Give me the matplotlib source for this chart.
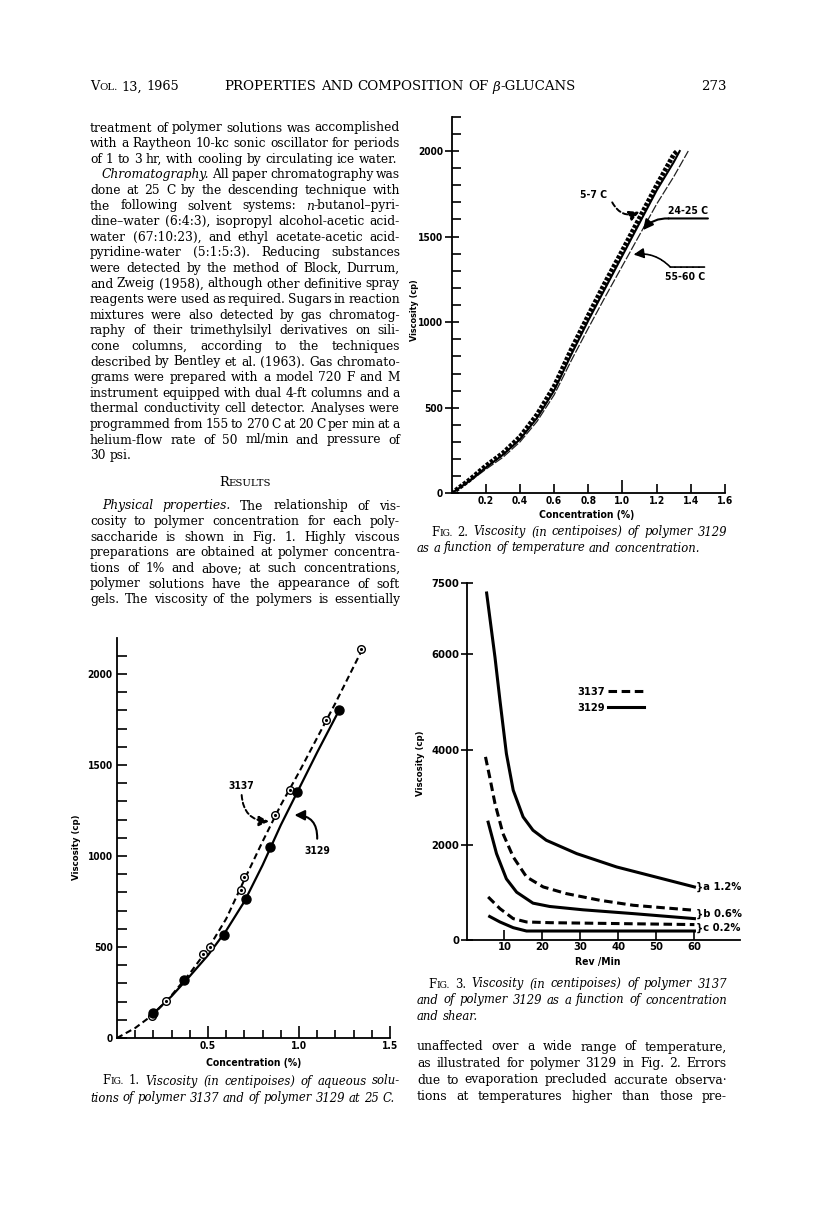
import re
import numpy as np
import matplotlib
matplotlib.use('Agg')
import matplotlib.pyplot as plt
from matplotlib.ticker import FixedLocator
from matplotlib.transforms import IdentityTransform

# ---------------- Fig. 1 : viscosity vs concentration, 25 C
conc_3137 = [0.19, 0.27, 0.47, 0.51, 0.68, 0.70, 0.87, 0.95, 1.15, 1.34]
visc_3137 = [120, 205, 460, 500, 815, 885, 1225, 1360, 1745, 2135]
conc_3129 = [0.20, 0.37, 0.59, 0.71, 0.84, 0.99, 1.22]
visc_3129 = [140, 320, 565, 765, 1050, 1350, 1800]
# hand drawn curves through the points
curve_x_3137 = [0, 0.1, 0.2, 0.3, 0.4, 0.5, 0.6, 0.7, 0.8, 0.9, 1.0, 1.1, 1.2, 1.34]
curve_y_3137 = [0, 55, 130, 235, 355, 490, 655, 870, 1080, 1280, 1460, 1650, 1840, 2120]
curve_x_3129 = [0.19, 0.3, 0.4, 0.5, 0.6, 0.7, 0.8, 0.9, 1.0, 1.1, 1.22]
curve_y_3129 = [125, 230, 340, 455, 590, 750, 950, 1170, 1370, 1570, 1800]

# ---------------- Fig. 2 : polymer 3129 at three temperatures
conc_5_7 = [0, 0.1, 0.2, 0.3, 0.4, 0.5, 0.6, 0.7, 0.8, 0.9, 1.0, 1.1, 1.2, 1.3, 1.32]
visc_5_7 = [0, 75, 160, 235, 330, 460, 625, 840, 1040, 1235, 1420, 1610, 1800, 1980, 2000]
conc_24_25 = [0, 0.1, 0.2, 0.3, 0.4, 0.5, 0.6, 0.7, 0.8, 0.9, 1.0, 1.1, 1.2, 1.3, 1.335]
visc_24_25 = [0, 70, 150, 225, 315, 440, 600, 810, 1010, 1200, 1390, 1580, 1770, 1935, 2000]
conc_55_60 = [0, 0.1, 0.2, 0.3, 0.4, 0.5, 0.6, 0.7, 0.8, 0.9, 1.0, 1.1, 1.2, 1.3, 1.385]
visc_55_60 = [0, 65, 140, 210, 300, 420, 575, 775, 965, 1150, 1330, 1510, 1690, 1850, 2000]

# ---------------- Fig. 3 : viscosity vs shear (rev/min)
rev_a_3129 = [5.3, 7.5, 8.8, 10.5, 12.3, 14.9, 17.5, 21, 29, 39.5, 60]
visc_a_3129 = [7290, 5940, 5040, 3920, 3150, 2590, 2310, 2100, 1820, 1540, 1120]
rev_b_3137 = [5, 6.1, 7.5, 9.6, 12.3, 15.8, 20.2, 26.3, 35.1, 43.9, 60]
visc_b_3137 = [3850, 3430, 2870, 2240, 1750, 1330, 1120, 980, 840, 735, 630]
rev_b_3129 = [5.7, 7.9, 10.5, 13.2, 17.5, 21.9, 30.7, 43.9, 60]
visc_b_3129 = [2480, 1820, 1290, 1010, 780, 710, 640, 560, 455]
rev_c_3137 = [5.7, 8.8, 12.3, 15.8, 21.9, 60]
visc_c_3137 = [910, 665, 455, 385, 370, 330]
rev_c_3129 = [6.1, 8.8, 12.3, 15.8, 21.9, 60]
visc_c_3129 = [500, 385, 265, 195, 195, 195]
conc_labels = ['}a 1.2%', '}b 0.6%', '}c 0.2%']
conc_label_y = [1118, 560, 262]

W, H = 816, 1224
plt.rcParams['font.family'] = ['DejaVu Sans']
plt.rcParams['font.weight'] = 'bold'
plt.rcParams['font.stretch'] = 'condensed'
plt.rcParams['axes.labelweight'] = 'bold'
plt.rcParams['axes.linewidth'] = 1.3

fig = plt.figure(figsize=(W / 100, H / 100), dpi=100)
fig.patch.set_facecolor('white')
rend = fig.canvas.get_renderer()
SERIF = 'DejaVu Serif'
PX = IdentityTransform()
BODY = 8.8
CAP = 8.4


def px_axes(left, top, right, bottom):
    ax = fig.add_axes([left / W, 1 - bottom / H, (right - left) / W, (bottom - top) / H])
    ax.spines['top'].set_visible(False)
    ax.spines['right'].set_visible(False)
    ax.patch.set_alpha(0)
    ax.tick_params(labelsize=7.3, width=1.2, colors='k')
    return ax


def put_text(line, x0, x1, yc, align='justify', size=BODY, italic=False):
    ital, sc = italic, False
    words = []
    for w in line.split(' '):
        segs = []
        for part in re.split(r'([_^])', w):
            if part == '_':
                ital = not ital
            elif part == '^':
                sc = not sc
            elif part:
                segs.append(fig.text(0, H - yc - 3.5, part.upper() if sc else part,
                                     transform=PX, family=SERIF, weight='normal',
                                     stretch='normal', style='italic' if ital else 'normal',
                                     fontsize=size * 0.78 if sc else size, va='baseline'))
        words.append(segs)
    wid = [[t.get_window_extent(rend).width for t in segs] for segs in words]
    totals = [sum(w) for w in wid]
    space = size * 1.389 * 0.32
    natural = sum(totals) + space * (len(words) - 1)
    if align == 'justify' and len(words) > 1:
        gap = (x1 - x0 - sum(totals)) / (len(words) - 1)
        x = x0
    else:
        gap = space
        x = {'left': x0, 'center': (x0 + x1 - natural) / 2, 'right': x1 - natural}[align]
    for segs, ws in zip(words, wid):
        for t, w in zip(segs, ws):
            t.set_x(x)
            x += w
        x += gap


# ---------------- running head
put_text('V^OL.^ 13, 1965', 90, 400, 87, align='left', size=9.3)
put_text('PROPERTIES AND COMPOSITION OF _β_-GLUCANS', 218, 582, 87, align='center', size=9.6)
put_text('273', 417, 727, 87, align='right', size=9.6)

# ---------------- left column text
left_par1 = [
    'treatment of polymer solutions was accomplished',
    'with a Raytheon 10-kc sonic oscillator for periods',
    'of 1 to 3 hr, with cooling by circulating ice water.',
    '_Chromatography._ All paper chromatography was',
    'done at 25 C by the descending technique with',
    'the following solvent systems: _n_-butanol–pyri-',
    'dine–water (6:4:3), isopropyl alcohol-acetic acid-',
    'water (67:10:23), and ethyl acetate-acetic acid-',
    'pyridine-water (5:1:5:3). Reducing substances',
    'were detected by the method of Block, Durrum,',
    'and Zweig (1958), although other definitive spray',
    'reagents were used as required. Sugars in reaction',
    'mixtures were also detected by gas chromatog-',
    'raphy of their trimethylsilyl derivatives on sili-',
    'cone columns, according to the techniques',
    'described by Bentley et al. (1963). Gas chromato-',
    'grams were prepared with a model 720 F and M',
    'instrument equipped with dual 4-ft columns and a',
    'thermal conductivity cell detector. Analyses were',
    'programmed from 155 to 270 C at 20 C per min at a',
    'helium-flow rate of 50 ml/min and pressure of',
    '30 psi.',
]
left_par2 = [
    '_Physical properties._ The relationship of vis-',
    'cosity to polymer concentration for each poly-',
    'saccharide is shown in Fig. 1. Highly viscous',
    'preparations are obtained at polymer concentra-',
    'tions of 1% and above; at such concentrations,',
    'polymer solutions have the appearance of soft',
    'gels. The viscosity of the polymers is essentially',
]
lead = 15.6
for i, ln in enumerate(left_par1):
    indent = 12 if i == 3 else 0
    put_text(ln, 90 + indent, 400, 128 + i * lead,
             align='left' if i in (2, 21) else 'justify')
put_text('R^ESULTS^', 90, 400, 483, align='center', size=9.4)
for i, ln in enumerate(left_par2):
    put_text(ln, 90 + (12 if i == 0 else 0), 400, 506 + i * lead)

right_par = [
    'unaffected over a wide range of temperature,',
    'as illustrated for polymer 3129 in Fig. 2. Errors',
    'due to evaporation precluded accurate observa·',
    'tions at temperatures higher than those pre-',
]
for i, ln in enumerate(right_par):
    put_text(ln, 417, 727, 1047 + i * 16.5)

# captions
put_text('_F^IG.^ 1._ Viscosity (in centipoises) of aqueous solu-', 102, 400, 1081, size=CAP, italic=True)
put_text('tions of polymer 3137 and of polymer 3129 at 25 C.', 90, 400, 1098, align='left', size=CAP, italic=True)
put_text('_F^IG.^ 2._ Viscosity (in centipoises) of polymer 3129', 431, 727, 532, size=CAP, italic=True)
put_text('as a function of temperature and concentration.', 417, 727, 548, align='left', size=CAP, italic=True)
put_text('_F^IG.^ 3._ Viscosity (in centipoises) of polymer 3137', 428, 727, 984, size=CAP, italic=True)
put_text('and of polymer 3129 as a function of concentration', 417, 727, 1000, size=CAP, italic=True)
put_text('and shear.', 417, 727, 1016, align='left', size=CAP, italic=True)

# ---------------- Fig. 1
ax1 = px_axes(117, 637.6, 390, 1038)
ax1.set_xlim(0, 1.5)
ax1.set_ylim(0, 2200)
ax1.plot(curve_x_3137, curve_y_3137, color='k', lw=1.5, dashes=(3, 1.8))
ax1.plot(curve_x_3129, curve_y_3129, color='k', lw=1.6)
ax1.plot(conc_3137, visc_3137, 'o', ms=5.5, mfc='white', mec='k', mew=1.0, clip_on=False)
ax1.plot(conc_3137, visc_3137, '.', ms=2.5, color='k', clip_on=False)
ax1.plot(conc_3129, visc_3129, 'o', ms=6.5, color='k', clip_on=False)
ax1.xaxis.set_major_locator(FixedLocator([0.5, 1.0, 1.5]))
ax1.xaxis.set_minor_locator(FixedLocator(np.arange(1, 15) / 10))
ax1.yaxis.set_major_locator(FixedLocator([0, 500, 1000, 1500, 2000]))
ax1.yaxis.set_minor_locator(FixedLocator(np.arange(100, 2200, 100)))
ax1.set_xticklabels(['0.5', '1.0', '1.5'])
ax1.tick_params(axis='x', which='major', direction='in', length=8.5, pad=2)
ax1.tick_params(axis='x', which='minor', direction='in', length=5.5, width=1.2)
ax1.tick_params(axis='y', which='both', direction='in', length=7, width=1.2, pad=3)
ax1.set_xlabel('Concentration (%)', fontsize=7.5)
ax1.set_ylabel('Viscosity (cp)', fontsize=6.8)
ax1.xaxis.set_label_coords(0.5, -0.05)
ax1.yaxis.set_label_coords(-0.132, 0.477)
ax1.text(0.685, 1385, '3137', ha='center', va='center', fontsize=7.5)
ax1.annotate('', xy=(0.835, 1190), xytext=(0.685, 1335),
             arrowprops=dict(arrowstyle='-|>,head_length=0.5,head_width=0.25', color='k',
                             lw=1.4, linestyle=(0, (2.5, 1.5)), shrinkA=0, shrinkB=0,
                             connectionstyle='arc3,rad=0.45', mutation_scale=12))
ax1.text(1.1, 1030, '3129', ha='center', va='center', fontsize=7.5)
ax1.annotate('', xy=(0.975, 1225), xytext=(1.1, 1095),
             arrowprops=dict(arrowstyle='-|>,head_length=0.5,head_width=0.25', color='k',
                             lw=1.5, shrinkA=0, shrinkB=0,
                             connectionstyle='arc3,rad=0.5', mutation_scale=12))

# ---------------- Fig. 2
ax2 = px_axes(451.6, 116.8, 725, 493.3)
ax2.set_xlim(0, 1.6)
ax2.set_ylim(0, 2200)
ax2.plot(conc_55_60, visc_55_60, color='#222222', lw=0.9, dashes=(7, 1.5))
ax2.plot(conc_24_25, visc_24_25, color='k', lw=1.5)
ax2.plot(conc_5_7, visc_5_7, color='k', lw=3.4, dashes=(0.7, 0.35))
ax2.xaxis.set_major_locator(FixedLocator([0.2, 0.4, 0.6, 0.8, 1.0, 1.2, 1.4, 1.6]))
ax2.set_xticklabels(['0.2', '0.4', '0.6', '0.8', '1.0', '1.2', '1.4', '1.6'])
ax2.yaxis.set_major_locator(FixedLocator([0, 500, 1000, 1500, 2000]))
ax2.yaxis.set_minor_locator(FixedLocator(np.arange(100, 2300, 100)))
ax2.tick_params(axis='x', direction='in', length=6.5, pad=2)
ax2.tick_params(axis='y', which='major', direction='inout', length=10, pad=1)
ax2.tick_params(axis='y', which='minor', direction='in', length=6.5, width=1.2)
ax2.xaxis.get_major_ticks()[4].tick1line.set_markersize(9.5)
ax2.set_xlabel('Concentration (%)', fontsize=7.5)
ax2.set_ylabel('Viscosity (cp)', fontsize=6.5)
ax2.xaxis.set_label_coords(0.494, -0.045)
ax2.yaxis.set_label_coords(-0.118, 0.487)
ax2.text(0.83, 1745, '5-7 C', ha='center', va='center', fontsize=7.5)
ax2.annotate('', xy=(1.10, 1645), xytext=(0.94, 1700),
             arrowprops=dict(arrowstyle='-|>,head_length=0.5,head_width=0.25', color='k',
                             lw=1.4, linestyle=(0, (2.5, 1.5)), shrinkA=0, shrinkB=0,
                             connectionstyle='arc3,rad=0.45', mutation_scale=12))
ax2.text(1.385, 1650, '24-25 C', ha='center', va='center', fontsize=7.5)
ax2.annotate('', xy=(1.27, 1606), xytext=(1.5, 1606),
             arrowprops=dict(arrowstyle='-', color='k', lw=1.5, shrinkA=0, shrinkB=0))
ax2.annotate('', xy=(1.12, 1538), xytext=(1.27, 1606),
             arrowprops=dict(arrowstyle='-|>,head_length=0.5,head_width=0.25', color='k',
                             lw=1.5, shrinkA=0, shrinkB=0,
                             connectionstyle='arc3,rad=0.25', mutation_scale=12))
ax2.text(1.365, 1262, '55-60 C', ha='center', va='center', fontsize=7.5)
ax2.annotate('', xy=(1.28, 1322), xytext=(1.48, 1322),
             arrowprops=dict(arrowstyle='-', color='k', lw=1.2, linestyle=(0, (3, 0.6)),
                             shrinkA=0, shrinkB=0))
ax2.annotate('', xy=(1.065, 1395), xytext=(1.28, 1322),
             arrowprops=dict(arrowstyle='-|>,head_length=0.5,head_width=0.25', color='k',
                             lw=1.2, linestyle=(0, (3, 0.6)), shrinkA=0, shrinkB=0,
                             connectionstyle='arc3,rad=0.25', mutation_scale=12))

# ---------------- Fig. 3
ax3 = px_axes(466.5, 583, 740, 940.3)
ax3.set_xlim(0, 72)
ax3.set_ylim(0, 7500)
dash3 = (2.8, 1.5)
l_solid, = ax3.plot(rev_a_3129, visc_a_3129, color='k', lw=2.2)
l_dash, = ax3.plot(rev_b_3137, visc_b_3137, color='k', lw=2.2, dashes=dash3)
ax3.plot(rev_b_3129, visc_b_3129, color='k', lw=2.2)
ax3.plot(rev_c_3137, visc_c_3137, color='k', lw=2.2, dashes=dash3)
ax3.plot(rev_c_3129, visc_c_3129, color='k', lw=2.2)
ax3.xaxis.set_major_locator(FixedLocator([10, 20, 30, 40, 50, 60]))
ax3.yaxis.set_major_locator(FixedLocator([0, 2000, 4000, 6000, 7500]))
ax3.tick_params(axis='x', direction='in', length=7, pad=1.5, labelsize=8)
ax3.tick_params(axis='y', direction='inout', length=8, pad=1, labelsize=8)
ax3.set_xlabel('Rev /Min', fontsize=7.5)
ax3.set_ylabel('Viscosity (cp)', fontsize=6.8)
ax3.xaxis.set_label_coords(0.48, -0.047)
ax3.yaxis.set_label_coords(-0.152, 0.496)
for lab, yv in zip(conc_labels, conc_label_y):
    ax3.text(60.3, yv, lab, ha='left', va='center', fontsize=8, clip_on=False)
ax3.legend([l_dash, l_solid], ['3137', '3129'], loc='upper left',
           bbox_to_anchor=(0.405, 0.71), frameon=False, markerfirst=False,
           handlelength=3.3, handletextpad=0.25, labelspacing=0.55,
           borderpad=0, borderaxespad=0, fontsize=8)

fig.savefig('out.png', dpi=100, facecolor='white')
